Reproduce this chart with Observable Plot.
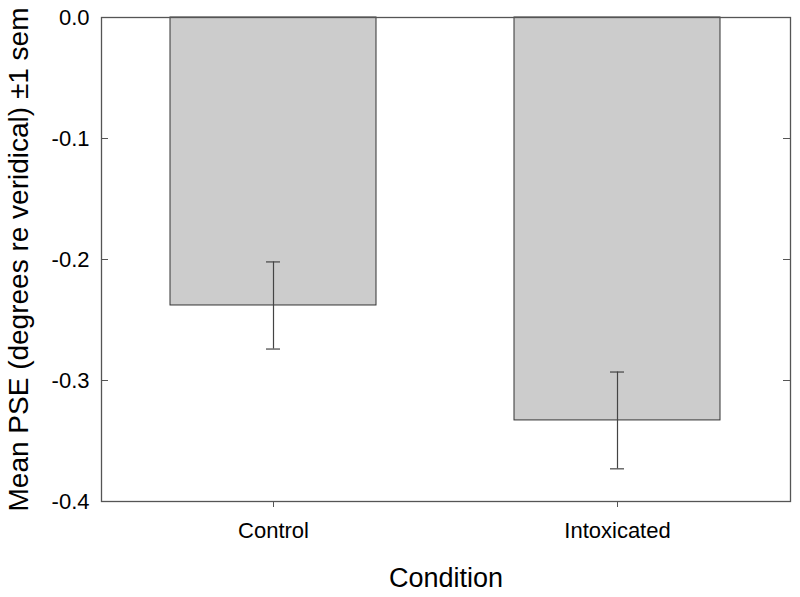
<!DOCTYPE html>
<html><head><meta charset="utf-8">
<script src="https://cdn.jsdelivr.net/npm/d3@7"></script>
<script src="https://cdn.jsdelivr.net/npm/@observablehq/plot@0.6"></script>
<style>body{margin:0;background:#fff}</style>
</head><body><div id="chart"></div>
<script>
const conditions = ["Control", "Intoxicated"];
const meanPSE = [-0.238, -0.333];
const sem = [0.036, 0.040];
const yTicks = [0, -0.1, -0.2, -0.3, -0.4];
const xLabel = "Condition";
const yLabel = "Mean PSE (degrees re veridical) ±1 sem";

const data = conditions.map((c, i) => ({
  condition: c, mean: meanPSE[i], lo: meanPSE[i] - sem[i], hi: meanPSE[i] + sem[i]
}));

const font = "'Liberation Sans', Arial, sans-serif";
const chart = Plot.plot({
  width: 800, height: 597,
  marginLeft: 101, marginRight: 10, marginTop: 17, marginBottom: 96,
  style: {fontFamily: font, fontSize: "22px", color: "#000", background: "#fff"},
  x: {domain: conditions, paddingInner: 0.4, paddingOuter: 0.2, label: null},
  y: {domain: [-0.4, 0], ticks: yTicks, label: null},
  marks: [
    Plot.barY(data, {x: "condition", y: "mean", fill: "#cccccc", stroke: "#333", strokeWidth: 1}),
    Plot.ruleX(data, {x: "condition", y1: "lo", y2: "hi", stroke: "#444", strokeWidth: 1.2}),
    Plot.tickY(data, {x: "condition", y: "lo", stroke: "#444", strokeWidth: 1.2, insetLeft: 96, insetRight: 96}),
    Plot.tickY(data, {x: "condition", y: "hi", stroke: "#444", strokeWidth: 1.2, insetLeft: 96, insetRight: 96}),
    Plot.tickY(yTicks, {y: d => d, stroke: "#555", insetRight: 682}),
    Plot.tickY(yTicks, {y: d => d, stroke: "#555", insetLeft: 682}),
    Plot.frame({stroke: "#555", strokeWidth: 1.3}),
    Plot.axisY({ticks: yTicks, tickSize: 0, tickPadding: 12, tickFormat: d => d.toFixed(1).replace("-0.0", "0.0"), fontSize: 22, label: null}),
    Plot.axisX({tickSize: 6, tickPadding: 15, stroke: "#555", fontSize: 22, label: null}),
    Plot.text([xLabel], {frameAnchor: "bottom", dy: 77, text: d => d, fontSize: 27, lineAnchor: "middle", fill: "#000"}),
    Plot.text([yLabel], {frameAnchor: "left", textAnchor: "middle", dx: -82, rotate: -90, text: d => d, fontSize: 28, lineAnchor: "middle", fill: "#000"})
  ]
});
document.getElementById("chart").appendChild(chart);
</script>
</body></html>
